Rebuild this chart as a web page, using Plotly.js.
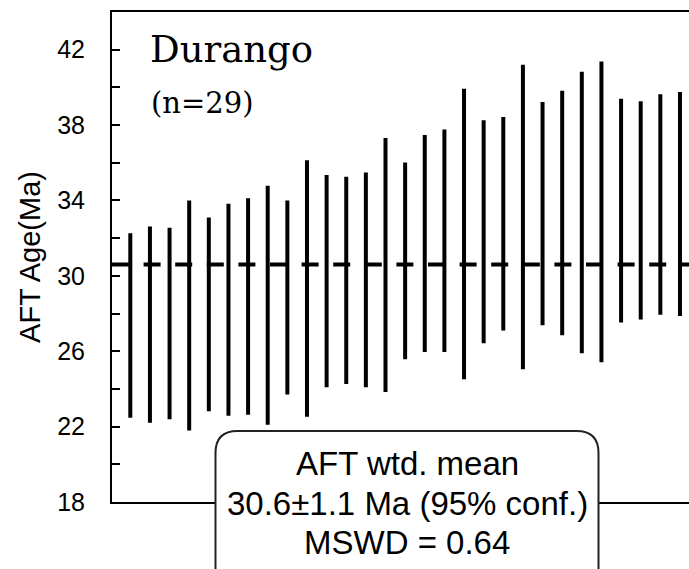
<!DOCTYPE html>
<html>
<head>
<meta charset="utf-8">
<script src="https://cdn.plot.ly/plotly-3.0.1.min.js"></script>
<style>html,body{margin:0;padding:0;background:#fff;}#chart{width:689px;height:569px;}</style>
</head>
<body>
<div id="chart"></div>
<script>
// ---- data ----
const grainIndex = [1,2,3,4,5,6,7,8,9,10,11,12,13,14,15,16,17,18,19,20,21,22,23,24,25,26,27,28,29];
const ageUpper = [32.26,32.62,32.55,34.0,33.1,33.82,34.12,34.78,34.0,36.14,35.35,35.26,35.48,37.31,
                  36.02,37.47,37.77,39.93,38.25,38.43,41.2,39.22,39.82,40.83,41.38,39.4,39.27,39.63,39.75];
const ageLower = [22.47,22.21,22.39,21.8,22.81,22.58,22.63,22.1,23.71,22.53,24.09,24.26,24.09,23.84,
                  25.57,25.96,25.96,24.51,26.42,27.1,25.04,27.38,26.85,25.89,25.41,27.52,27.68,27.94,27.87];
const meanAge = 30.6;
const yTickVals = [18,20,22,24,26,28,30,32,34,36,38,40,42];
const yTickText = ['18','','22','','26','','30','','34','','38','','42'];
const sampleName = 'Durango';
const sampleCount = '(n=29)';
const boxLines = ['AFT wtd. mean', '30.6\u00b11.1 Ma (95% conf.)', 'MSWD = 0.64'];

// ---- build segments ----
const segX = [], segY = [];
grainIndex.forEach((g, i) => {
  segX.push(g, g, null);
  segY.push(ageLower[i], ageUpper[i], null);
});

// ---- layout geometry (pixels) ----
const W = 689, H = 569, ML = 112, MR = 0, MT = 12, MB = 67;
const PW = W - ML - MR, PH = H - MT - MB;
const px = x => (x - ML) / PW;
const py = y => (H - MB - y) / PH;

// rounded box (bottom runs off the picture)
const bx0 = px(215.5), bx1 = px(598.5), byt = py(431), byb = py(600);
const rx = 22 / PW, ry = 22 / PH;
const boxPath = `M ${bx0+rx},${byt} L ${bx1-rx},${byt} Q ${bx1},${byt} ${bx1},${byt-ry} L ${bx1},${byb} L ${bx0},${byb} L ${bx0},${byt-ry} Q ${bx0},${byt} ${bx0+rx},${byt} Z`;

const data = [{
  type: 'scatter', mode: 'lines', x: segX, y: segY,
  line: {color: '#000', width: 4}, hoverinfo: 'skip', showlegend: false
}];

const boxFont = {family: 'Liberation Sans, Arial, sans-serif', size: 33, color: '#000'};

const layout = {
  width: W, height: H,
  margin: {l: ML, r: MR, t: MT, b: MB, pad: 0},
  paper_bgcolor: '#fff', plot_bgcolor: '#fff',
  showlegend: false,
  xaxis: {
    range: [0.068, 29.46], showline: true, mirror: true, linecolor: '#000', linewidth: 2,
    showgrid: false, zeroline: false, showticklabels: false, ticks: ''
  },
  yaxis: {
    range: [18, 44], showline: true, linecolor: '#000', linewidth: 2,
    showgrid: false, zeroline: false,
    tickmode: 'array', tickvals: yTickVals, ticktext: yTickText,
    ticks: 'inside', ticklen: 8, tickwidth: 2, tickcolor: '#000',
    ticklabelstandoff: 20,
    tickfont: {family: 'Liberation Sans, Arial, sans-serif', size: 25, color: '#000'},
    title: {text: 'AFT Age(Ma)', standoff: 8,
            font: {family: 'Liberation Sans, Arial, sans-serif', size: 29, color: '#000'}}
  },
  shapes: [
    {type: 'line', xref: 'paper', x0: 0, x1: 1, yref: 'y', y0: meanAge, y1: meanAge,
     line: {color: '#000', width: 4, dash: '17px,14.6px'}, layer: 'above'},
    {type: 'path', xref: 'paper', yref: 'paper', path: boxPath,
     fillcolor: '#fff', line: {color: '#222', width: 2}, layer: 'above'}
  ],
  annotations: [
    {xref: 'paper', yref: 'paper', x: px(148), y: py(49), xanchor: 'left', yanchor: 'middle',
     text: sampleName, showarrow: false,
     font: {family: 'DejaVu Serif, serif', size: 37, color: '#000'}},
    {xref: 'paper', yref: 'paper', x: px(149), y: py(103), xanchor: 'left', yanchor: 'middle',
     text: sampleCount, showarrow: false,
     font: {family: 'DejaVu Serif, serif', size: 29, color: '#000'}},
    {xref: 'paper', yref: 'paper', x: px(407), y: py(463), xanchor: 'center', yanchor: 'middle',
     text: boxLines[0], showarrow: false, font: boxFont},
    {xref: 'paper', yref: 'paper', x: px(407), y: py(503), xanchor: 'center', yanchor: 'middle',
     text: boxLines[1], showarrow: false, font: boxFont},
    {xref: 'paper', yref: 'paper', x: px(407), y: py(542), xanchor: 'center', yanchor: 'middle',
     text: boxLines[2], showarrow: false, font: boxFont}
  ]
};

Plotly.newPlot('chart', data, layout, {staticPlot: true, displayModeBar: false});
</script>
</body>
</html>
